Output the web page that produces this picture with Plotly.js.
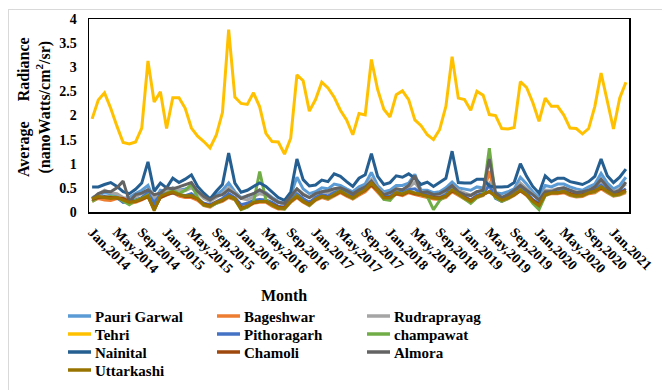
<!DOCTYPE html>
<html>
<head>
<meta charset="utf-8">
<script src="https://cdn.plot.ly/plotly-3.0.1.min.js"></script>
<style>
  html, body { margin: 0; padding: 0; background: #fff; overflow: hidden; }
  #wrap { position: relative; width: 662px; height: 390px; }
  #chart { width: 662px; height: 390px; }
  #frame { position: absolute; left: 8px; top: 9px; width: 700px; height: 420px;
           border: 1px solid #d9d9d9; pointer-events: none; }
</style>
</head>
<body>
<div id="wrap">
  <div id="chart"></div>
  <div id="frame"></div>
</div>
<script>
// Monthly categories, Jan 2014 – Mar 2021
const monthNames = ['Jan','Feb','Mar','Apr','May','Jun','Jul','Aug','Sep','Oct','Nov','Dec'];
const months = [];
for (let y = 2014; y <= 2021; y++) {
  for (let m = 0; m < 12; m++) {
    if (y === 2021 && m > 2) break;
    months.push(monthNames[m] + ',' + y);
  }
}
// every fourth month is labelled on the axis
const tickLabels = months.filter((_, i) => i % 4 === 0);

// Average radiance per district (nanoWatts/cm²/sr)
const pauriGarwal = [
  0.30,0.35,0.40,0.38,0.35,0.28,0.30,0.38,0.45,0.55,
  0.25,0.45,0.42,0.50,0.45,0.48,0.52,0.40,0.30,0.22,
  0.35,0.45,0.60,0.42,0.30,0.32,0.38,0.42,0.40,0.30,
  0.22,0.18,0.35,0.72,0.48,0.38,0.42,0.50,0.48,0.58,
  0.55,0.48,0.42,0.52,0.58,0.82,0.55,0.42,0.45,0.55,
  0.55,0.60,0.78,0.45,0.45,0.40,0.42,0.50,0.62,0.50,
  0.48,0.45,0.52,0.50,0.55,0.40,0.38,0.42,0.48,0.72,
  0.58,0.42,0.30,0.55,0.52,0.58,0.58,0.52,0.48,0.45,
  0.52,0.58,0.80,0.60,0.48,0.55,0.72];
const bageshwar = [
  0.22,0.28,0.25,0.24,0.28,0.26,0.18,0.20,0.25,0.32,
  0.08,0.30,0.35,0.40,0.33,0.30,0.30,0.24,0.13,0.10,
  0.18,0.22,0.30,0.25,0.06,0.10,0.18,0.20,0.20,0.12,
  0.06,0.06,0.20,0.30,0.20,0.13,0.24,0.30,0.26,0.33,
  0.40,0.33,0.27,0.35,0.42,0.55,0.42,0.27,0.27,0.37,
  0.34,0.40,0.36,0.33,0.30,0.27,0.26,0.30,0.42,0.34,
  0.27,0.20,0.30,0.34,0.85,0.30,0.22,0.27,0.34,0.44,
  0.34,0.20,0.12,0.34,0.38,0.38,0.40,0.34,0.31,0.32,
  0.38,0.40,0.48,0.40,0.33,0.35,0.40];
const rudraprayag = [
  0.28,0.36,0.45,0.40,0.38,0.30,0.25,0.32,0.38,0.45,
  0.30,0.40,0.45,0.50,0.46,0.44,0.50,0.40,0.28,0.22,
  0.30,0.38,0.50,0.38,0.28,0.25,0.32,0.38,0.35,0.28,
  0.20,0.15,0.30,0.48,0.38,0.30,0.35,0.42,0.40,0.45,
  0.48,0.42,0.35,0.45,0.52,0.68,0.50,0.38,0.38,0.48,
  0.45,0.50,0.62,0.42,0.40,0.35,0.36,0.42,0.55,0.45,
  0.40,0.35,0.42,0.45,0.60,0.38,0.30,0.36,0.42,0.60,
  0.48,0.35,0.25,0.45,0.45,0.48,0.50,0.45,0.42,0.40,
  0.45,0.50,0.65,0.52,0.42,0.48,0.58];
const tehri = [
  1.93,2.32,2.47,2.15,1.78,1.44,1.41,1.45,1.74,3.13,
  2.28,2.49,1.73,2.37,2.37,2.15,1.74,1.57,1.46,1.33,
  1.59,2.06,3.78,2.38,2.25,2.23,2.47,2.18,1.63,1.46,
  1.45,1.20,1.53,2.84,2.72,2.09,2.33,2.69,2.57,2.38,
  2.11,1.91,1.60,2.04,2.01,3.16,2.54,2.13,1.97,2.43,
  2.51,2.33,1.91,1.79,1.60,1.50,1.71,2.19,3.22,2.36,
  2.33,2.11,2.50,2.42,2.02,2.00,1.73,1.72,1.75,2.70,
  2.58,2.27,1.88,2.36,2.19,2.19,2.01,1.74,1.73,1.62,
  1.73,2.19,2.88,2.29,1.72,2.36,2.69];
const pithoragarh = [
  0.28,0.30,0.32,0.30,0.30,0.20,0.22,0.25,0.30,0.40,
  0.18,0.36,0.38,0.40,0.36,0.34,0.38,0.28,0.18,0.15,
  0.22,0.28,0.38,0.30,0.15,0.18,0.24,0.26,0.25,0.20,
  0.12,0.10,0.25,0.38,0.28,0.20,0.30,0.36,0.33,0.40,
  0.45,0.40,0.32,0.40,0.48,0.58,0.48,0.32,0.32,0.42,
  0.40,0.46,0.48,0.38,0.36,0.30,0.30,0.36,0.50,0.40,
  0.32,0.25,0.35,0.38,0.55,0.28,0.22,0.30,0.38,0.50,
  0.40,0.26,0.18,0.40,0.42,0.42,0.45,0.38,0.36,0.36,
  0.42,0.46,0.56,0.45,0.38,0.40,0.48];
const champawat = [
  0.22,0.30,0.30,0.32,0.30,0.22,0.15,0.24,0.28,0.35,
  0.05,0.32,0.38,0.45,0.38,0.45,0.57,0.30,0.14,0.12,
  0.18,0.24,0.32,0.26,0.05,0.10,0.20,0.84,0.25,0.14,
  0.08,0.06,0.22,0.34,0.22,0.14,0.26,0.32,0.28,0.36,
  0.44,0.36,0.28,0.38,0.46,0.58,0.45,0.26,0.24,0.40,
  0.38,0.43,0.40,0.36,0.32,0.05,0.24,0.34,0.46,0.36,
  0.27,0.18,0.30,0.36,1.32,0.30,0.22,0.28,0.36,0.46,
  0.36,0.18,0.05,0.34,0.40,0.40,0.44,0.36,0.32,0.34,
  0.40,0.42,0.52,0.42,0.34,0.36,0.44];
const nainital = [
  0.52,0.52,0.57,0.61,0.53,0.42,0.38,0.47,0.60,1.04,
  0.43,0.60,0.50,0.70,0.61,0.68,0.77,0.53,0.39,0.27,
  0.43,0.57,1.22,0.60,0.41,0.45,0.53,0.60,0.53,0.42,
  0.30,0.24,0.41,1.10,0.67,0.54,0.56,0.66,0.63,0.79,
  0.74,0.63,0.53,0.70,0.77,1.21,0.74,0.57,0.61,0.75,
  0.72,0.79,0.70,0.57,0.62,0.53,0.62,0.70,1.26,0.61,
  0.60,0.60,0.68,0.68,0.54,0.52,0.52,0.53,0.61,1.00,
  0.74,0.53,0.39,0.75,0.63,0.70,0.70,0.63,0.60,0.57,
  0.63,0.74,1.10,0.75,0.61,0.72,0.89];
const chamoli = [
  0.26,0.30,0.31,0.30,0.30,0.28,0.22,0.22,0.26,0.32,
  0.06,0.30,0.36,0.40,0.36,0.32,0.32,0.27,0.16,0.13,
  0.20,0.24,0.32,0.28,0.08,0.12,0.19,0.22,0.22,0.16,
  0.10,0.09,0.22,0.32,0.22,0.16,0.26,0.32,0.30,0.35,
  0.42,0.35,0.30,0.38,0.45,0.56,0.45,0.30,0.30,0.38,
  0.36,0.42,0.38,0.36,0.33,0.30,0.29,0.33,0.44,0.38,
  0.30,0.24,0.32,0.36,0.42,0.33,0.26,0.30,0.36,0.44,
  0.36,0.24,0.15,0.36,0.40,0.40,0.42,0.38,0.35,0.36,
  0.40,0.44,0.50,0.44,0.38,0.40,0.45];
const almora = [
  0.27,0.38,0.43,0.42,0.50,0.64,0.22,0.36,0.39,0.46,
  0.36,0.39,0.50,0.48,0.52,0.57,0.61,0.43,0.32,0.25,
  0.33,0.36,0.46,0.38,0.28,0.34,0.38,0.46,0.38,0.28,
  0.20,0.18,0.32,0.48,0.36,0.30,0.38,0.42,0.44,0.48,
  0.50,0.45,0.38,0.46,0.52,0.64,0.48,0.36,0.40,0.48,
  0.46,0.55,0.75,0.40,0.42,0.36,0.38,0.45,0.55,0.42,
  0.36,0.34,0.42,0.45,1.10,0.40,0.30,0.36,0.45,0.55,
  0.45,0.36,0.25,0.42,0.42,0.48,0.50,0.45,0.40,0.42,
  0.45,0.52,0.68,0.52,0.40,0.45,0.62];
const uttarkashi = [
  0.27,0.32,0.30,0.28,0.30,0.25,0.20,0.22,0.28,0.33,
  0.03,0.33,0.38,0.42,0.36,0.33,0.34,0.27,0.15,0.12,
  0.20,0.25,0.33,0.28,0.06,0.12,0.20,0.22,0.22,0.15,
  0.08,0.08,0.22,0.33,0.22,0.15,0.26,0.33,0.29,0.36,
  0.43,0.36,0.29,0.38,0.46,0.60,0.46,0.29,0.29,0.40,
  0.37,0.43,0.39,0.36,0.33,0.29,0.28,0.33,0.46,0.37,
  0.29,0.22,0.32,0.36,0.43,0.32,0.24,0.29,0.36,0.46,
  0.36,0.22,0.13,0.36,0.40,0.40,0.43,0.36,0.33,0.34,
  0.40,0.43,0.52,0.43,0.35,0.37,0.43];

const seriesNames = ['Pauri Garwal','Bageshwar','Rudraprayag','Tehri','Pithoragarh',
                     'champawat','Nainital','Chamoli','Almora','Uttarkashi'];
const seriesValues = [pauriGarwal, bageshwar, rudraprayag, tehri, pithoragarh,
                      champawat, nainital, chamoli, almora, uttarkashi];
const seriesColors = ['#5B9BD5','#ED7D31','#A5A5A5','#FFC000','#4472C4',
                      '#70AD47','#255E91','#9E480E','#636363','#997300'];

const serif = '"Liberation Serif", "Times New Roman", serif';
const W = 662, H = 390;
const M = { l: 89, r: 33, t: 19, b: 178 };
const plotW = W - M.l - M.r, plotH = H - M.t - M.b;
// pixel position on the page -> paper coordinates
const px = v => (v - M.l) / plotW;
const py = v => (H - M.b - v) / plotH;

const traces = seriesNames.map((name, k) => ({
  type: 'scatter',
  mode: 'lines',
  name: name,
  x: months,
  y: seriesValues[k],
  line: { color: seriesColors[k], width: 3 },
  hoverinfo: 'skip',
  showlegend: false
}));

// three-column key below the plot, filled row by row
const keyCols = [68, 217, 367];
const keyRows = [316, 334, 352, 370];
const keyShapes = [], keyTexts = [];
seriesNames.forEach((name, k) => {
  const cx = keyCols[k % 3], cy = keyRows[Math.floor(k / 3)];
  keyShapes.push({
    type: 'line', xref: 'paper', yref: 'paper',
    x0: px(cx), x1: px(cx + 23), y0: py(cy), y1: py(cy),
    line: { color: seriesColors[k], width: 3.5 }
  });
  keyTexts.push({
    text: name, xref: 'paper', yref: 'paper',
    x: px(cx + 25), y: py(cy + 0.5), xanchor: 'left', yanchor: 'middle',
    showarrow: false,
    font: { family: serif, size: 15, weight: 'bold', color: '#000' }
  });
});

const layout = {
  width: W,
  height: H,
  margin: M,
  paper_bgcolor: '#ffffff',
  plot_bgcolor: '#ffffff',
  font: { family: serif, color: '#000000', weight: 'bold' },
  showlegend: false,
  xaxis: {
    type: 'category',
    range: [-0.5, months.length - 0.5],
    tickmode: 'array',
    tickvals: tickLabels,
    ticktext: tickLabels,
    tickangle: 45,
    ticklabelstandoff: 5,
    tickfont: { family: serif, size: 14, weight: 'bold', color: '#000' },
    showgrid: false,
    zeroline: false,
    showline: true,
    linecolor: '#000000',
    linewidth: 1.5,
    mirror: true,
    ticks: ''
  },
  yaxis: {
    range: [0, 4],
    dtick: 0.5,
    ticklabelstandoff: 8,
    tickfont: { family: serif, size: 14, weight: 'bold', color: '#000' },
    showgrid: false,
    zeroline: false,
    showline: true,
    linecolor: '#000000',
    linewidth: 1.5,
    mirror: true,
    ticks: ''
  },
  shapes: keyShapes,
  annotations: [
    {
      text: 'Average&nbsp;&nbsp;&nbsp;&nbsp; Radiance<br>(nanoWatts/cm<sup>2</sup>/sr)',
      xref: 'paper', yref: 'paper',
      x: px(35), y: py(107),
      xanchor: 'center', yanchor: 'middle',
      textangle: -90,
      showarrow: false,
      font: { family: serif, size: 16, weight: 'bold', color: '#000' }
    },
    {
      text: 'Month',
      xref: 'paper', yref: 'paper',
      x: px(284), y: py(295),
      xanchor: 'center', yanchor: 'middle',
      showarrow: false,
      font: { family: serif, size: 16, weight: 'bold', color: '#000' }
    }
  ].concat(keyTexts)
};

Plotly.newPlot('chart', traces, layout, { displayModeBar: false, staticPlot: true });
</script>
</body>
</html>
